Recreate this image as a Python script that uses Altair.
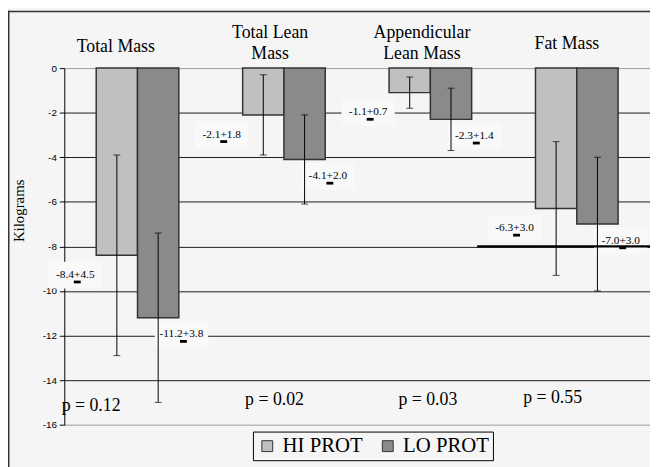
import altair as alt
import pandas as pd

# ---- data ----
categories = ["Total Mass", "Total Lean Mass", "Appendicular Lean Mass", "Fat Mass"]
category_titles = ["Total Mass", "Total Lean\nMass", "Appendicular\nLean Mass", "Fat Mass"]
groups = ["HI PROT", "LO PROT"]
hi_mean = [-8.4, -2.1, -1.1, -6.3]
hi_sd = [4.5, 1.8, 0.7, 3.0]
lo_mean = [-11.2, -4.1, -2.3, -7.0]
lo_sd = [3.8, 2.0, 1.4, 3.0]
p_values = ["p = 0.12", "p = 0.02", "p = 0.03", "p = 0.55"]
y_ticks = [-16, -14, -12, -10, -8, -6, -4, -2, 0]
highlight_level = [-8]

SERIF = "Liberation Serif, Times New Roman, Times, DejaVu Serif, serif"
SANS = "Liberation Sans, Arial, Helvetica, sans-serif"
BG = "#f5f5f5"

rows = []
for i, c in enumerate(categories):
    for g, means, sds in (("HI PROT", hi_mean, hi_sd), ("LO PROT", lo_mean, lo_sd)):
        m, s = means[i], sds[i]
        rows.append(dict(category=c, group=g, mean=m, sd=s, low=m - s, high=m + s,
                         label=f"{m:.1f}+{s:.1f}"))
df = pd.DataFrame(rows)

x_scale = alt.Scale(domain=categories, paddingInner=0.436, paddingOuter=0.218)
y_scale = alt.Scale(domain=[-16, 0], nice=False, zero=False)
X = alt.X("category:N", scale=x_scale, axis=None)
XOFF = alt.XOffset("group:N", scale=alt.Scale(domain=groups, paddingInner=0, paddingOuter=0))

y_axis = alt.Axis(
    values=y_ticks, grid=True,
    gridColor={"condition": {"test": "datum.value === 0 || datum.value === -16", "value": "#9a9a9a"},
               "value": "#1a1a1a"},
    gridWidth=1, domainColor="black", domainWidth=1, tickColor="black", tickSize=5,
    labelFont=SANS, labelFontSize=10, labelColor="black", labelPadding=3,
    labelExpr="datum.value + ''",
    title="Kilograms", titleFont=SERIF, titleFontSize=15, titleFontWeight="normal",
    titleColor="black", titleX=-46, titleY=144, titleAngle=270,
    titleAlign="center", titleBaseline="middle",
)


def Y(field):
    return alt.Y(field, scale=y_scale, axis=y_axis, title="Kilograms")


base = alt.Chart(df)

layers = []

# label background boxes, text and the small dash under "+"
box_shape = "M-1,-0.5L1,-0.5L1,0.5L-1,0.5Z"
dash_shape = "M-1,-0.4L1,-0.4L1,0.4L-1,0.4Z"
label_style = {"HI PROT": (-63, 20), "LO PROT": (44.5, 17)}
for g, (dx, dy) in label_style.items():
    layers.append(
        base.transform_filter(alt.datum.group == g)
        .mark_point(shape=box_shape, size=2916, filled=True, color="#f9f9f9",
                    opacity=1, strokeWidth=0, xOffset=dx, yOffset=dy)
        .encode(x=X, y=Y("mean:Q"))
    )

bars = base.mark_bar(stroke="#333333", strokeWidth=1.5).encode(
    x=X, xOffset=XOFF, y=Y("mean:Q"),
    color=alt.Color(
        "group:N",
        scale=alt.Scale(domain=groups, range=["#c0c0c0", "#8a8a8a"]),
        legend=alt.Legend(
            orient="none", legendX=191, legendY=368, direction="horizontal",
            title=None, fillColor=BG, strokeColor="black", padding=4,
            symbolType="square", symbolSize=121, symbolStrokeColor="#333333",
            symbolStrokeWidth=1, labelFont=SERIF, labelFontSize=21,
            labelColor="black", labelOffset=5, columnPadding=14,
        ),
    ),
)
layers.append(bars)

layers.append(
    base.mark_rule(color="black", strokeWidth=1).encode(
        x=X, xOffset=XOFF, y=Y("low:Q"), y2="high:Q")
)
for f in ("low:Q", "high:Q"):
    layers.append(
        base.mark_tick(color="black", size=7, thickness=1, orient="horizontal").encode(
            x=X, xOffset=XOFF, y=Y(f))
    )

layers.append(
    alt.Chart(pd.DataFrame({"level": highlight_level}))
    .mark_rule(color="black", strokeWidth=2.5)
    .encode(y=Y("level:Q"), x=alt.value(418), x2=alt.value(593))
)

for g, (dx, dy) in label_style.items():
    sub = base.transform_filter(alt.datum.group == g)
    layers.append(
        sub.mark_text(dx=dx, dy=dy, font=SERIF, fontSize=11.5, color="black",
                      baseline="middle")
        .encode(x=X, y=Y("mean:Q"), text="label:N")
    )
    layers.append(
        sub.mark_point(shape=dash_shape, size=49, filled=True, color="black",
                       opacity=1, strokeWidth=0, xOffset=dx + 2, yOffset=dy + 7)
        .encode(x=X, y=Y("mean:Q"))
    )

# category headers and p values
title_nudge = [(-22, -21), (-14, -35), (-8.5, -35), (-10, -24)]
p_nudge = [(-47, 342), (-9.5, 336), (-2.5, 336), (-24.5, 334)]
for i, c in enumerate(categories):
    one = alt.Chart(pd.DataFrame({"category": [c], "title": [category_titles[i]],
                                  "p": [p_values[i]]}))
    tdx, ty = title_nudge[i]
    layers.append(
        one.mark_text(dx=tdx, font=SERIF, fontSize=18, lineBreak="\n", lineHeight=21,
                      baseline="middle", color="black")
        .encode(x=X, y=alt.value(ty), text="title:N")
    )
    pdx, py = p_nudge[i]
    layers.append(
        one.mark_text(dx=pdx, font=SERIF, fontSize=18, baseline="middle", color="black")
        .encode(x=X, y=alt.value(py), text="p:N")
    )

# frame lines (left and top edge of the picture box)
frame_src = alt.Chart(pd.DataFrame({"k": [0]}))
layers.append(frame_src.mark_rule(color="#333333", strokeWidth=1.5).encode(
    x=alt.value(-56.25), y=alt.value(-58), y2=alt.value(420)))
layers.append(frame_src.mark_rule(color="#333333", strokeWidth=1.5).encode(
    y=alt.value(-57.25), x=alt.value(-57), x2=alt.value(600)))

chart = (
    alt.layer(*layers)
    .properties(
        width=593, height=361,
        padding={"left": 57, "top": 58, "right": 0, "bottom": 40},
        autosize=alt.AutoSizeParams(type="none"),
        background=BG,
    )
    .configure_view(stroke=None)
)

chart.save("out.html", embed_options={"renderer": "svg", "actions": False})
